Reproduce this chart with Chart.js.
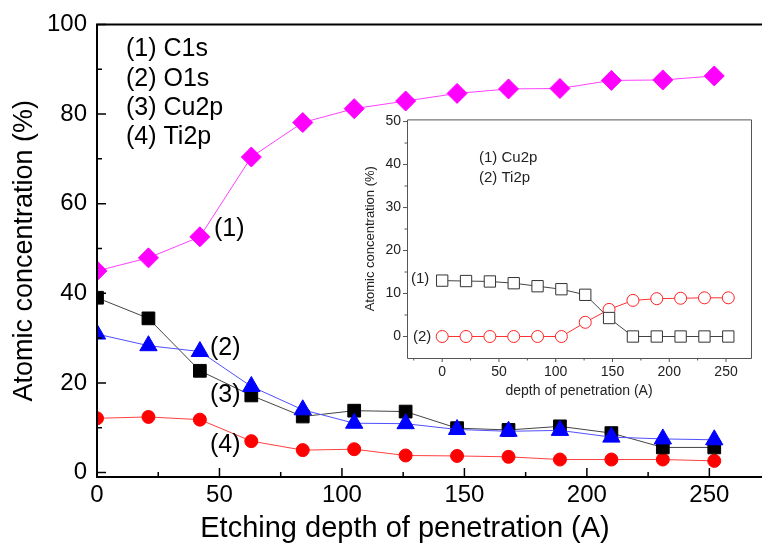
<!DOCTYPE html>
<html>
<head>
<meta charset="utf-8">
<script src="https://cdn.jsdelivr.net/npm/chart.js@4.4.1/dist/chart.umd.min.js"></script>
<style>
html, body { margin: 0; padding: 0; background: #fff; overflow: hidden; }
#wrap { position: relative; width: 762px; height: 544px; }
#main { position: absolute; left: 0; top: 0; }
#inset { position: absolute; left: 360px; top: 105px; }
</style>
</head>
<body>
<div id="wrap">
  <canvas id="main" width="762" height="544"></canvas>
  <canvas id="inset" width="400" height="300"></canvas>
</div>
<script>
// etching depth (A)
const depth = [0, 21, 42, 63, 84, 105, 126, 147, 168, 189, 210, 231, 252];

// main plot, atomic concentration (%)
const c1s  = [45.0, 47.9, 52.6, 70.4, 78.1, 81.2, 82.9, 84.6, 85.6, 85.7, 87.5, 87.6, 88.5];
const o1s  = [30.9, 28.3, 27.0, 19.2, 14.0, 11.0, 10.9, 9.6, 9.2, 9.4, 7.9, 7.5, 7.3];
const cu2p = [39.0, 34.4, 22.7, 17.2, 12.5, 13.8, 13.6, 9.9, 9.5, 10.3, 8.8, 5.6, 5.6];
const ti2p = [12.1, 12.4, 11.8, 7.0, 5.0, 5.2, 3.8, 3.7, 3.5, 2.9, 2.9, 2.9, 2.6];

// inset plot
const insetCu = [13.0, 12.9, 12.8, 12.4, 11.7, 11.0, 9.7, 4.3, 0, 0, 0, 0, 0];
const insetTi = [0, 0, 0, 0, 0, 0, 3.3, 6.3, 8.4, 8.8, 8.9, 9.0, 9.0];

// tick labels
const mainXTicks = [0, 50, 100, 150, 200, 250];
const mainYTicks = [0, 20, 40, 60, 80, 100];
const insetXTicks = [0, 50, 100, 150, 200, 250];
const insetYTicks = [0, 10, 20, 30, 40, 50];

const FONT = '"Liberation Sans", Arial, sans-serif';

function pts(ys) {
    return depth.map((x, i) => ({ x: x, y: ys[i] }));
}

// halfway ticks between the major ones, kept inside the axis range
function minors(major, min, max) {
    const step = major[1] - major[0];
    const out = [];
    for (let v = major[0] - step / 2; v <= major[major.length - 1] + step / 2; v += step) {
        if (v > min && v < max) out.push(v);
    }
    return out;
}

// axis box + tick marks (Origin-like), and free text
const framePlugin = {
    id: 'frame',
    afterDatasetsDraw(chart, args, o) {
        const ctx = chart.ctx;
        const a = chart.chartArea;
        const xs = chart.scales.x;
        const ys = chart.scales.y;
        const s = o.inward ? 1 : -1;   // +1 draws ticks into the plot
        ctx.save();
        ctx.strokeStyle = o.color;
        ctx.lineWidth = o.lineWidth;
        ctx.beginPath();
        if (o.full) {
            ctx.rect(a.left + 0.5, a.top + 0.5, a.right - a.left, a.bottom - a.top);
        } else {
            ctx.moveTo(chart.width, a.top);
            ctx.lineTo(a.left, a.top);
            ctx.lineTo(a.left, a.bottom);
            ctx.lineTo(chart.width, a.bottom);
        }
        ctx.stroke();

        ctx.lineWidth = o.tickWidth;
        ctx.beginPath();
        const xTick = (v, len) => {
            const px = xs.getPixelForValue(v);
            ctx.moveTo(px, a.bottom);
            ctx.lineTo(px, a.bottom - s * len);
        };
        const yTick = (v, len) => {
            const py = ys.getPixelForValue(v);
            ctx.moveTo(a.left, py);
            ctx.lineTo(a.left + s * len, py);
        };
        o.xMajor.forEach(v => xTick(v, o.major));
        o.xMinor.forEach(v => xTick(v, o.minor));
        o.yMajor.forEach(v => yTick(v, o.major));
        o.yMinor.forEach(v => yTick(v, o.minor));
        ctx.stroke();

        ctx.fillStyle = o.textColor;
        ctx.textBaseline = 'middle';
        o.texts.forEach(t => {
            ctx.font = t.size + 'px ' + FONT;
            ctx.textAlign = t.align || 'left';
            ctx.fillText(t.text, t.x, t.y);
        });
        ctx.restore();
    }
};
Chart.register(framePlugin);

function lineSet(label, ys, color, lineColor, style, radius, fill) {
    return {
        label: label,
        data: pts(ys),
        borderColor: lineColor,
        borderWidth: 1,
        pointStyle: style,
        pointRadius: radius,
        pointBackgroundColor: fill,
        pointBorderColor: color,
        pointBorderWidth: 1,
        tension: 0,
        clip: 0
    };
}

// ---- main chart ----
new Chart(document.getElementById('main'), {
    type: 'line',
    data: {
        datasets: [
            lineSet('C1s', c1s, '#ff00ff', '#ff40ff', 'rectRot', 10, '#ff00ff'),
            lineSet('O1s', o1s, '#0000ff', '#5050ff', 'triangle', 10, '#0000ff'),
            lineSet('Cu2p', cu2p, '#000000', '#444444', 'rect', 9, '#000000'),
            lineSet('Ti2p', ti2p, '#ff0000', '#ff4040', 'circle', 6.5, '#ff0000')
        ]
    },
    options: {
        responsive: false,
        animation: false,
        layout: { padding: { top: 22, right: 0, left: 0, bottom: 0 } },
        plugins: {
            legend: { display: false },
            tooltip: { enabled: false },
            frame: {
                inward: true, full: false, color: '#000', lineWidth: 2, tickWidth: 1.5,
                major: 9, minor: 5, textColor: '#000',
                xMajor: mainXTicks, xMinor: minors(mainXTicks, 0, 267),
                yMajor: mainYTicks, yMinor: minors(mainYTicks, -1, 100),
                texts: [
                    { text: '(1) C1s', x: 126, y: 49, size: 25 },
                    { text: '(2) O1s', x: 126, y: 79, size: 25 },
                    { text: '(3) Cu2p', x: 126, y: 108, size: 25 },
                    { text: '(4) Ti2p', x: 126, y: 137, size: 25 },
                    { text: '(1)', x: 214, y: 229, size: 25 },
                    { text: '(2)', x: 210, y: 348, size: 25 },
                    { text: '(3)', x: 210, y: 395, size: 25 },
                    { text: '(4)', x: 210, y: 445, size: 25 },
                    { text: 'Etching depth of penetration (A)', x: 405, y: 529, size: 29, align: 'center' }
                ]
            }
        },
        scales: {
            x: {
                type: 'linear', min: 0, max: 267,
                grid: { display: false, drawTicks: false },
                border: { display: false },
                afterBuildTicks: s => { s.ticks = mainXTicks.map(v => ({ value: v })); },
                afterFit: s => { s.height = 67; },
                ticks: { color: '#000', padding: 4, maxRotation: 0, font: { family: FONT, size: 24 } }
            },
            y: {
                type: 'linear', min: -1, max: 100,
                grid: { display: false, drawTicks: false },
                border: { display: false },
                afterBuildTicks: s => { s.ticks = mainYTicks.map(v => ({ value: v })); },
                afterFit: s => { s.width = 97; },
                ticks: { color: '#000', padding: 10, font: { family: FONT, size: 24 } },
                title: {
                    display: true, text: 'Atomic concentration (%)', color: '#000',
                    padding: { top: 8, bottom: 0 }, font: { family: FONT, size: 27 }
                }
            }
        }
    }
});

// ---- inset chart ----
new Chart(document.getElementById('inset'), {
    type: 'line',
    data: {
        datasets: [
            lineSet('Cu2p', insetCu, '#333333', '#444444', 'rect', 8, '#ffffff'),
            lineSet('Ti2p', insetTi, '#ff2020', '#ff3030', 'circle', 6, '#ffffff')
        ]
    },
    options: {
        responsive: false,
        animation: false,
        layout: { padding: { top: 3, right: 2, left: 0, bottom: 0 } },
        plugins: {
            legend: { display: false },
            tooltip: { enabled: false },
            frame: {
                inward: false, full: true, color: '#555', lineWidth: 1, tickWidth: 1,
                major: 4, minor: 2.5, textColor: '#222',
                xMajor: insetXTicks, xMinor: minors(insetXTicks, -31, 272),
                yMajor: insetYTicks, yMinor: minors(insetYTicks, -5, 50.5),
                texts: [
                    { text: '(1) Cu2p', x: 119, y: 53, size: 15 },
                    { text: '(2) Ti2p', x: 119, y: 73, size: 15 },
                    { text: '(1)', x: 51, y: 174, size: 15 },
                    { text: '(2)', x: 53, y: 232, size: 15 }
                ]
            }
        },
        scales: {
            x: {
                type: 'linear', min: -31, max: 272,
                grid: { display: false, drawTicks: false },
                border: { display: false },
                afterBuildTicks: s => { s.ticks = insetXTicks.map(v => ({ value: v })); },
                afterFit: s => { s.height = 47; },
                ticks: { color: '#222', padding: 6, maxRotation: 0, font: { family: FONT, size: 14 } },
                title: {
                    display: true, text: 'depth of penetration (A)', color: '#222',
                    padding: { top: 0, bottom: 5 }, font: { family: FONT, size: 14 }
                }
            },
            y: {
                type: 'linear', min: -5, max: 50.5,
                grid: { display: false, drawTicks: false },
                border: { display: false },
                afterBuildTicks: s => { s.ticks = insetYTicks.map(v => ({ value: v })); },
                afterFit: s => { s.width = 47; },
                ticks: { color: '#222', padding: 6, font: { family: FONT, size: 14 } },
                title: {
                    display: true, text: 'Atomic concentration (%)', color: '#222',
                    padding: { top: 3, bottom: 0 }, font: { family: FONT, size: 13 }
                }
            }
        }
    }
});
</script>
</body>
</html>
